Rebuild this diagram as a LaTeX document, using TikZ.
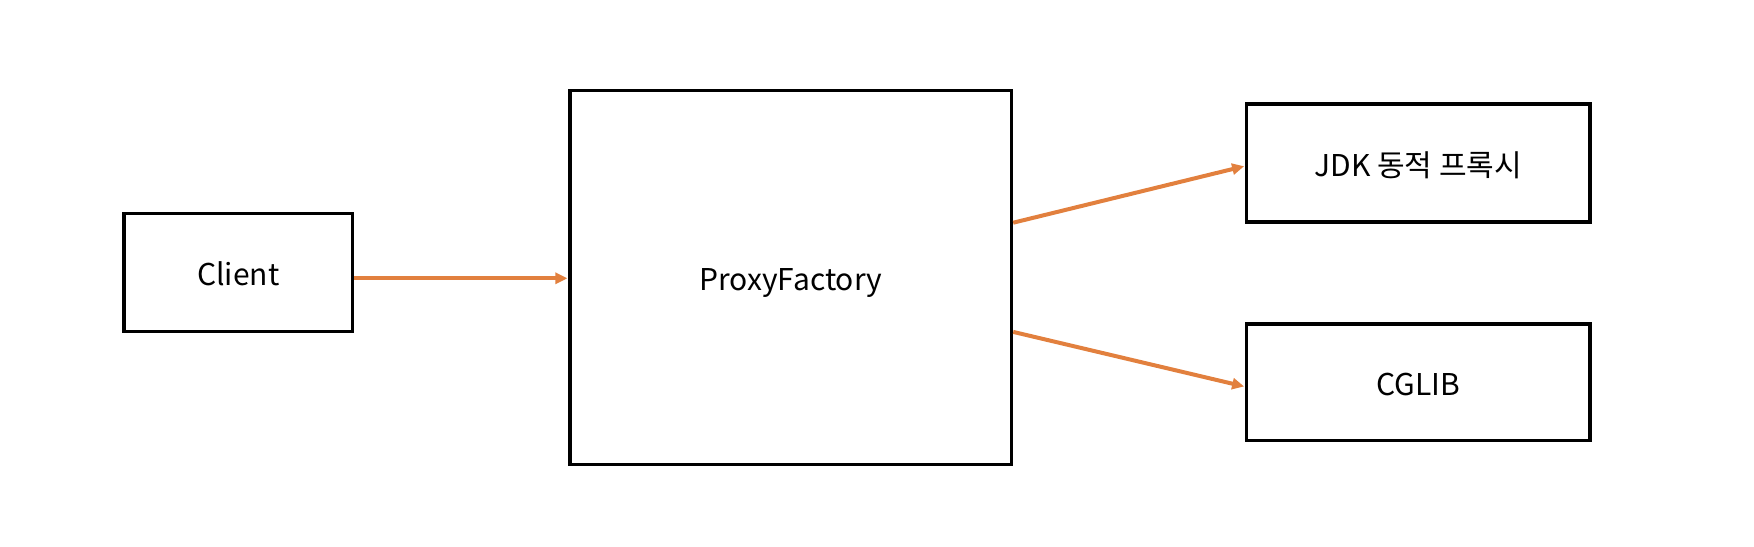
\documentclass[tikz,border=0pt]{standalone}
\usepackage{fontspec}
\setmainfont{Noto Sans CJK KR}
\usetikzlibrary{arrows.meta}
\definecolor{arrowor}{HTML}{E2803E}
\tikzset{
  x=0.5pt, y=-0.5pt,
  box/.style={draw=black, line width=1.6pt, rectangle, inner sep=0pt, text height=13pt, text depth=0pt, font=\fontsize{15pt}{18pt}\selectfont},
  link/.style={draw=arrowor, line width=2pt, -{Triangle[length=6pt,width=5.5pt]}, shorten >=0.5pt}
}
\begin{document}
\begin{tikzpicture}
\useasboundingbox (0,0) rectangle (1754,546);
\node[box, minimum width=114.3pt, minimum height=59pt] (client) at (238.3,272.3) {Client};
\node[box, minimum width=220.8pt, minimum height=186.8pt] (pf) at (790.8,277.5) {ProxyFactory};
\node[box, minimum width=171.6pt, minimum height=59pt] (jdk) at (1418.3,163) {JDK 동적 프록시};
\node[box, minimum width=171.6pt, minimum height=58.3pt] (cglib) at (1418.3,382.3) {CGLIB};
\draw[link] ([yshift=-3pt]client.east) -- ([yshift=-3pt]client.east -| pf.west);
\draw[link] ([yshift=27.4pt]pf.east) -- ([yshift=-1.5pt]jdk.west);
\draw[link] ([yshift=-27.2pt]pf.east) -- ([yshift=-2.2pt]cglib.west);
\end{tikzpicture}
\end{document}
